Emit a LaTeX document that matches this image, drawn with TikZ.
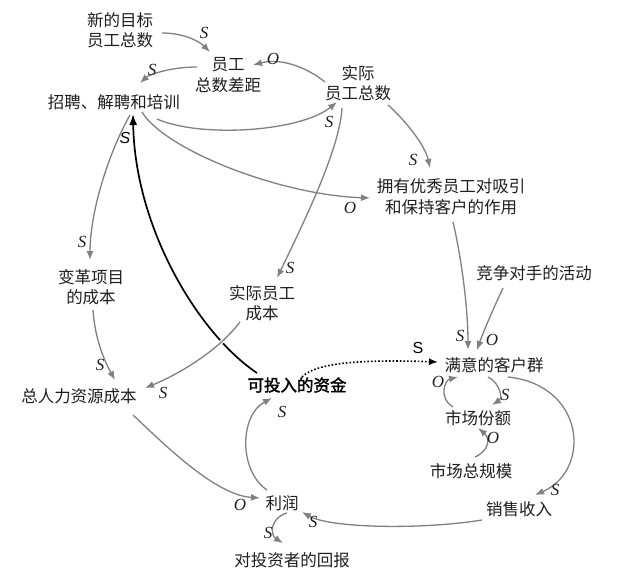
\documentclass[tikz,border=0pt]{standalone}
\usepackage{fontspec}
\setmainfont{Liberation Serif}
\setsansfont{Liberation Sans}
\newfontfamily\cjk{Noto Sans CJK SC}
\newfontfamily\cjkbold{Noto Sans CJK SC}[FakeBold=2]
\usetikzlibrary{arrows.meta,calc}
\definecolor{gcol}{RGB}{128,128,128}
\definecolor{tcol}{RGB}{30,30,30}
\tikzset{
  lab/.style={font=\cjk\fontsize{16.5}{20.5}\selectfont, align=center, inner sep=1pt, text=tcol},
  labb/.style={font=\cjkbold\fontsize{16.5}{20.5}\selectfont, align=center, inner sep=1pt, text=black},
  arr/.style={draw=gcol, line width=1.3pt, -{Latex[length=9pt,width=7pt]}},
  barr/.style={draw=black, line width=1.7pt, -{Latex[length=11pt,width=8pt]}},
  darr/.style={draw=black, line width=1.6pt, dotted, -{Latex[length=9pt,width=7pt]}},
  sl/.style={font=\itshape\fontsize{17}{17}\selectfont, inner sep=0pt, text=tcol},
  slsans/.style={font=\sffamily\fontsize{16}{16}\selectfont, inner sep=0pt, text=black},
}
\begin{document}
\begin{tikzpicture}[x=1pt,y=-1pt]
\useasboundingbox (0,0) rectangle (641,578);
% nodes
\node[lab] (goal) at (120,30) {新的目标\\员工总数};
\node[lab] (gap) at (228,75) {员工\\总数差距};
\node[lab] (act) at (358,83) {实际\\员工总数};
\node[lab] (hire) at (114,102) {招聘、解聘和培训};
\node[lab] (eff) at (451,197) {拥有优秀员工对吸引\\和保持客户的作用};
\node[lab] (comp) at (534,273) {竞争对手的活动};
\node[lab] (chg) at (91,287) {变革项目\\的成本};
\node[lab] (acost) at (262,303) {实际员工\\成本};
\node[lab] (sat) at (494,365) {满意的客户群};
\node[labb] (fund) at (297,385) {可投入的资金};
\node[lab] (hrc) at (79,396) {总人力资源成本};
\node[lab] (share) at (478,418) {市场份额};
\node[lab] (tot) at (471,471) {市场总规模};
\node[lab] (rev) at (519,509) {销售收入};
\node[lab] (prof) at (282,503) {利润};
\node[lab] (ret) at (292,560) {对投资者的回报};
% black main connector
\draw[barr] ($(fund)+(-40,-12)$) .. controls (200,335) and (135,230) .. ($(hire)+(19,12)$);
% gray connectors
\draw[arr] ($(goal)+(42,3)$) .. controls (185,33) and (200,42) .. ($(gap)+(-18,-23)$);
\draw[arr] ($(gap)+(-31,-8)$) .. controls (172,67) and (150,74) .. ($(hire)+(26,-19)$);
\draw[arr] ($(act)+(-33,-1)$) .. controls (305,66) and (280,58) .. ($(gap)+(25,-10)$);
\draw[arr] ($(hire)+(43,17)$) .. controls (200,138) and (300,132) .. ($(act)+(-21,19)$);
\draw[arr] ($(hire)+(28,10)$) .. controls (165,150) and (280,195) .. ($(eff)+(-81,1)$);
\draw[arr] ($(act)+(30,22)$) .. controls (405,120) and (425,145) .. ($(eff)+(-21,-29)$);
\draw[arr] ($(act)+(-16,25)$) .. controls (340,150) and (300,230) .. ($(acost)+(15,-25)$);
\draw[arr] ($(hire)+(16,13)$) .. controls (110,150) and (90,210) .. ($(chg)+(-1,-27)$);
\draw[arr] ($(chg)+(2,23)$) .. controls (95,340) and (105,362) .. ($(hrc)+(36,-16)$);
\draw[arr, preaction={draw=white, line width=4pt, -}] ($(acost)+(-22,19)$) .. controls (215,355) and (170,378) .. ($(hrc)+(66,-8)$);
\draw[arr] ($(hrc)+(54,19)$) .. controls (165,445) and (215,495) .. ($(prof)+(-22,-5)$);
\draw[arr] ($(prof)+(-15,-13)$) .. controls (238,470) and (240,415) .. ($(fund)+(-25,13)$);
\draw[arr] ($(prof)+(5,10)$) .. controls (270,518) and (270,535) .. ($(ret)+(-9,-17)$);
\draw[arr] ($(rev)+(-37,11)$) .. controls (420,530) and (330,528) .. ($(prof)+(20,9)$);
\draw[arr] ($(sat)+(14,12)$) .. controls (585,385) and (592,470) .. ($(rev)+(16,-14)$);
\draw[arr] ($(sat)+(-6,12)$) .. controls (500,383) and (503,398) .. ($(share)+(14,-13)$);
\draw[arr] ($(share)+(-25,-11)$) .. controls (438,398) and (445,380) .. ($(sat)+(-36,12)$);
\draw[arr] ($(tot)+(4,-14)$) .. controls (490,450) and (490,438) .. ($(share)+(0,10)$);
\draw[arr] ($(eff)+(2,25)$) .. controls (462,260) and (468,310) .. ($(sat)+(-26,-15)$);
\draw[arr] ($(comp)+(-31,15)$) .. controls (495,305) and (484,330) .. ($(sat)+(-17,-15)$);
% dotted connector
\draw[darr] ($(fund)+(5,-8)$) .. controls (318,360) and (380,360) .. ($(sat)+(-56,-3)$);
% polarity labels
\node[sl] (s1) at (204,33) {S};
\node[sl] (s2) at (152,70) {S};
\node[sl] (o3) at (273,59) {O};
\node[sl] (s4) at (329,122) {S};
\node[sl] (o5) at (350,208) {O};
\node[sl] (s6) at (413,160) {S};
\node[sl] (s7) at (290,268) {S};
\node[sl] (s8) at (82,242) {S};
\node[sl] (s9) at (100,365) {S};
\node[sl] (s10) at (163,393) {S};
\node[sl] (o11) at (240,505) {O};
\node[sl] (s12) at (282,412) {S};
\node[sl] (s13) at (268,533) {S};
\node[sl] (s14) at (313,522) {S};
\node[sl] (s15) at (555,490) {S};
\node[sl] (s16) at (505,395) {S};
\node[sl] (o17) at (438,382) {O};
\node[sl] (o18) at (493,438) {O};
\node[sl] (s19) at (460,336) {S};
\node[sl] (o20) at (492,340) {O};
\node[slsans] (s21) at (418,348) {S};
\node[slsans] (s22) at (125,138) {\itshape S};
\end{tikzpicture}
\end{document}
